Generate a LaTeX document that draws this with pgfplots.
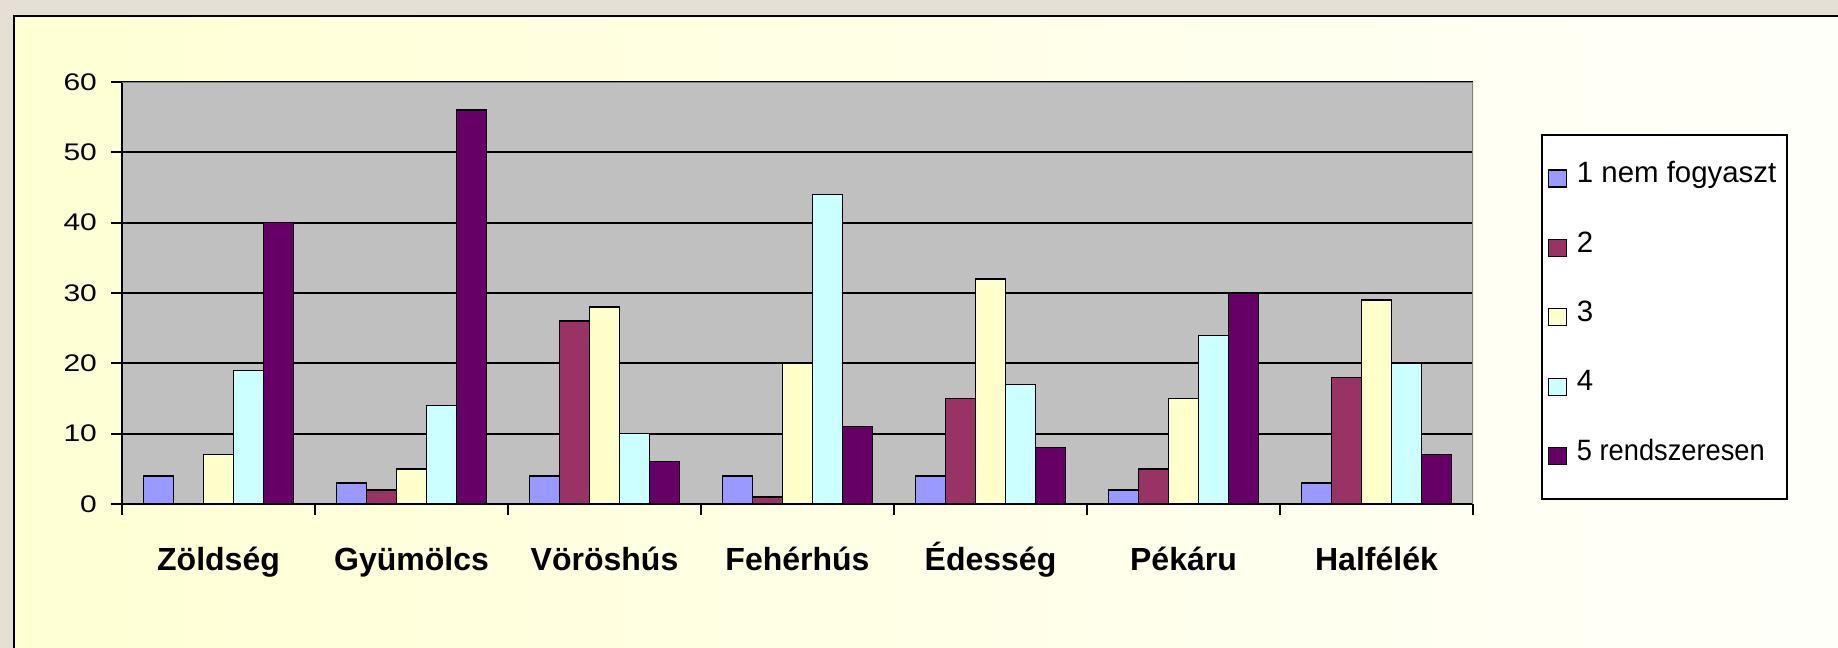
\documentclass[border=0pt]{standalone}
\usepackage{fontspec}
\setmainfont{Liberation Sans}
\usepackage{graphicx}
\usepackage{pgfplots}
\pgfplotsset{compat=1.18}
\definecolor{cA}{HTML}{9999FF}
\definecolor{cB}{HTML}{993366}
\definecolor{cC}{HTML}{FFFFCC}
\definecolor{cD}{HTML}{CCFFFF}
\definecolor{cE}{HTML}{660066}
\definecolor{plotbg}{HTML}{C0C0C0}
\definecolor{outerbg}{HTML}{E6DFD6}
\definecolor{ylw}{HTML}{FFFFD4}
\definecolor{wht}{HTML}{FFFFFA}
\newcommand{\lt}[2][1]{\makebox[102pt][l]{\scalebox{#1}[1]{#2}}}
\begin{document}
\begin{tikzpicture}
\path[use as bounding box] (0,0) rectangle (919pt,324pt);
\fill[outerbg] (0,0) rectangle (919pt,324pt);
\shade[left color=ylw, right color=wht] (7pt,0) rectangle (919pt,316pt);
\draw[black, line width=1pt] (7pt,0) -- (7pt,316pt) -- (919pt,316pt);
\begin{axis}[
  at={(61pt,72pt)}, anchor=south west,
  scale only axis, width=675.5pt, height=211pt,
  ybar=0pt, bar width=15pt,
  xmin=-0.5, xmax=6.5, ymin=0, ymax=60,
  enlargelimits=false,
  axis lines*=left,
  axis line style={black, line width=0.9pt},
  axis background/.style={fill=plotbg},
  ytick={0,10,...,60},
  ymajorgrids, grid style={black, line width=0.9pt},
  xtick={-0.5,0.5,...,6.5},
  xticklabels={Zöldség,Gyümölcs,Vöröshús,Fehérhús,Édesség,Pékáru,Halfélék,{}},
  xticklabel style={font=\fontsize{16}{19}\selectfont\bfseries, xshift=48.25pt, yshift=-12pt, text height=12pt, text depth=4pt},
  yticklabel={\scalebox{1.25}[1]{\pgfmathprintnumber{\tick}}},
  yticklabel style={font=\fontsize{12}{14}\selectfont, xshift=-3.5pt},
  /pgf/number format/assume math mode=true,
  tick align=outside, major tick length=5.5pt,
  tick style={black, line width=0.9pt},
  legend style={at={(1.0503,0.877)}, anchor=north west, draw=black, line width=0.8pt, fill=white,
    font=\fontsize{14.7}{17}\selectfont, row sep=15.4pt, column sep=5pt, inner xsep=3pt, inner ysep=12pt,
    nodes={text height=12pt, text depth=7.3pt, inner sep=0pt}},
  legend cell align=left,
  legend image code/.code={\draw[#1, line width=0.6pt] (0pt,-4.5pt) rectangle (9pt,4pt);},
]
\addplot[draw=black, line width=0.7pt, fill=cA] coordinates {(0,4) (1,3) (2,4) (3,4) (4,4) (5,2) (6,3)};
\addplot[draw=black, line width=0.7pt, fill=cB] coordinates {(0,0) (1,2) (2,26) (3,1) (4,15) (5,5) (6,18)};
\addplot[draw=black, line width=0.7pt, fill=cC] coordinates {(0,7) (1,5) (2,28) (3,20) (4,32) (5,15) (6,29)};
\addplot[draw=black, line width=0.7pt, fill=cD] coordinates {(0,19) (1,14) (2,10) (3,44) (4,17) (5,24) (6,20)};
\addplot[draw=black, line width=0.7pt, fill=cE] coordinates {(0,40) (1,56) (2,6) (3,11) (4,8) (5,30) (6,7)};
\legend{\lt{1 nem fogyaszt},\lt{2},\lt{3},\lt{4},\lt[0.927]{5 rendszeresen}}
\draw[gray, line width=0.8pt] (rel axis cs:0,1) -- (rel axis cs:1,1) -- (rel axis cs:1,0);
\end{axis}
\end{tikzpicture}
\end{document}
